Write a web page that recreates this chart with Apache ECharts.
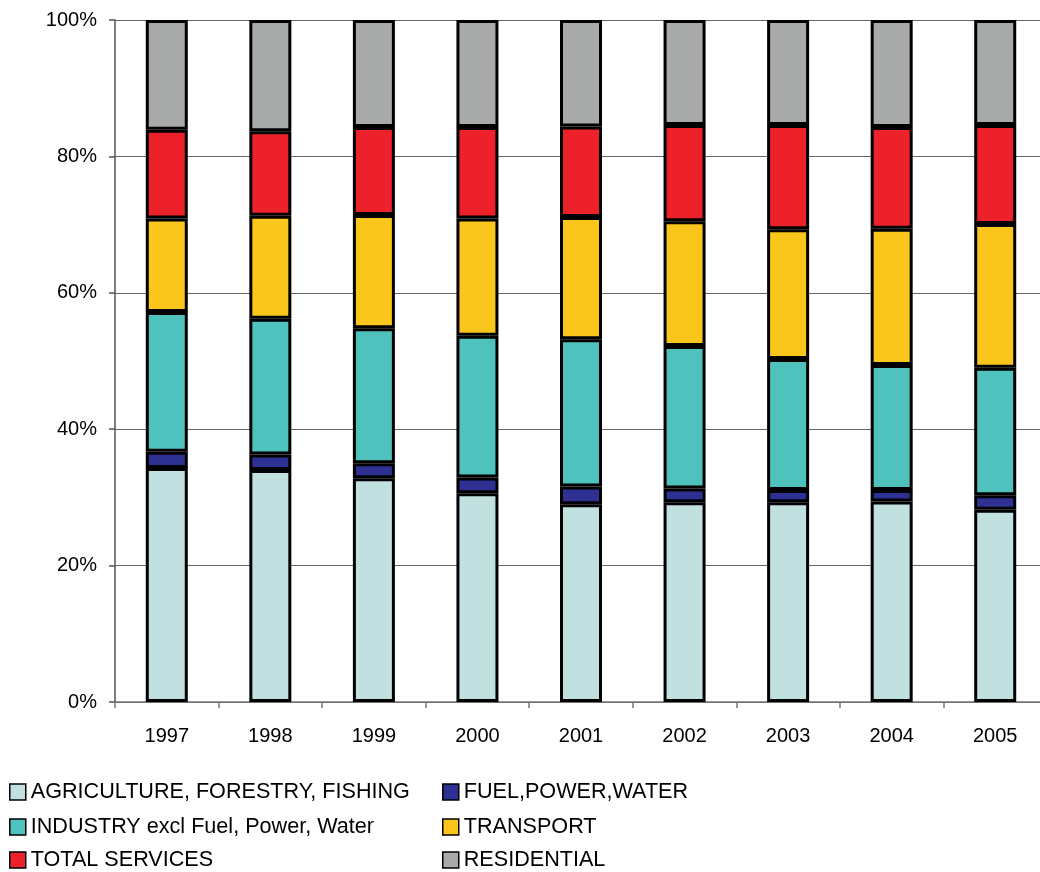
<!DOCTYPE html>
<html>
<head>
<meta charset="utf-8">
<title>Energy consumption shares by sector, 1997-2005</title>
<script src="https://cdn.jsdelivr.net/npm/echarts@6/dist/echarts.min.js"></script>
<style>
  html, body { margin: 0; padding: 0; background: #fff; overflow: hidden; }
  /* the plot runs slightly past the right edge of the window */
  #chart { width: 1050px; height: 872px; }
</style>
</head>
<body>
<div id="chart"></div>
<script>
// Years along the horizontal axis
const years = ['1997', '1998', '1999', '2000', '2001', '2002', '2003', '2004', '2005'];

// Share of total (%) for each sector, per year
const agriculture = [34.3, 34.0, 32.8, 30.6, 29.0, 29.3, 29.3, 29.4, 28.2];
const fuelPowerWater = [2.4, 2.3, 2.2, 2.3, 2.6, 2.0, 1.8, 1.7, 2.1];
const industry = [20.5, 19.9, 19.8, 20.8, 21.6, 20.9, 19.2, 18.3, 18.7];
const transport = [13.7, 15.1, 16.6, 17.2, 17.9, 18.3, 19.0, 20.0, 21.1];
const services = [13.0, 12.4, 12.9, 13.4, 13.3, 14.1, 15.3, 14.9, 14.5];
const residential = [16.1, 16.3, 15.7, 15.7, 15.6, 15.4, 15.4, 15.7, 15.4];

// Value axis tick labels
const yTicks = ['0%', '20%', '40%', '60%', '80%', '100%'];

const names = {
  agri: 'AGRICULTURE, FORESTRY, FISHING',
  fuel: 'FUEL,POWER,WATER',
  ind: 'INDUSTRY excl Fuel, Power, Water',
  trans: 'TRANSPORT',
  serv: 'TOTAL SERVICES',
  res: 'RESIDENTIAL'
};

const font = 'Liberation Sans, Arial, sans-serif';

function stacked(name, data, color) {
  return {
    name: name,
    type: 'bar',
    stack: 'share',
    data: data,
    barWidth: 42,
    itemStyle: { color: color, borderColor: '#000', borderWidth: 3 }
  };
}

// One legend box per entry: two columns of three rows
function legendEntry(name, left, top) {
  return {
    data: [name],
    left: left,
    top: top,
    padding: 0,
    itemWidth: 16,
    itemHeight: 16,
    icon: 'rect',
    selectedMode: false,
    textStyle: { fontFamily: font, fontSize: 21.6, lineHeight: 22, color: '#000' },
    itemStyle: { borderColor: '#000', borderWidth: 1.5 }
  };
}

const chart = echarts.init(document.getElementById('chart'), null, { renderer: 'canvas' });
chart.setOption({
  animation: false,
  backgroundColor: '#fff',
  grid: { left: 115, top: 20, width: 932, height: 682 },
  legend: [
    legendEntry(names.agri, 9, 781),
    legendEntry(names.ind, 9, 816),
    legendEntry(names.serv, 9, 849),
    legendEntry(names.fuel, 442, 781),
    legendEntry(names.trans, 442, 816),
    legendEntry(names.res, 442, 849)
  ],
  xAxis: {
    type: 'category',
    data: years,
    boundaryGap: true,
    axisLine: { show: true, lineStyle: { color: '#777', width: 1.5 } },
    axisTick: { show: true, inside: false, length: 6, lineStyle: { color: '#777', width: 1.5 } },
    axisLabel: { fontFamily: font, fontSize: 20, color: '#000', margin: 24 }
  },
  yAxis: {
    type: 'value',
    min: 0,
    max: 100,
    interval: 20,
    axisLine: { show: true, lineStyle: { color: '#555', width: 1.5 } },
    axisTick: { show: true, length: 6, lineStyle: { color: '#555', width: 1.5 } },
    splitLine: { show: true, lineStyle: { color: '#666', width: 1 } },
    axisLabel: {
      fontFamily: font, fontSize: 20, color: '#000', margin: 18,
      formatter: function (v) { return yTicks[Math.round(v / 20)]; }
    }
  },
  series: [
    stacked(names.agri, agriculture, '#C0E1E0'),
    stacked(names.fuel, fuelPowerWater, '#2E3192'),
    stacked(names.ind, industry, '#4FC2BE'),
    stacked(names.trans, transport, '#FBC61C'),
    stacked(names.serv, services, '#ED2129'),
    stacked(names.res, residential, '#A8A9A9')
  ]
});
</script>
</body>
</html>
